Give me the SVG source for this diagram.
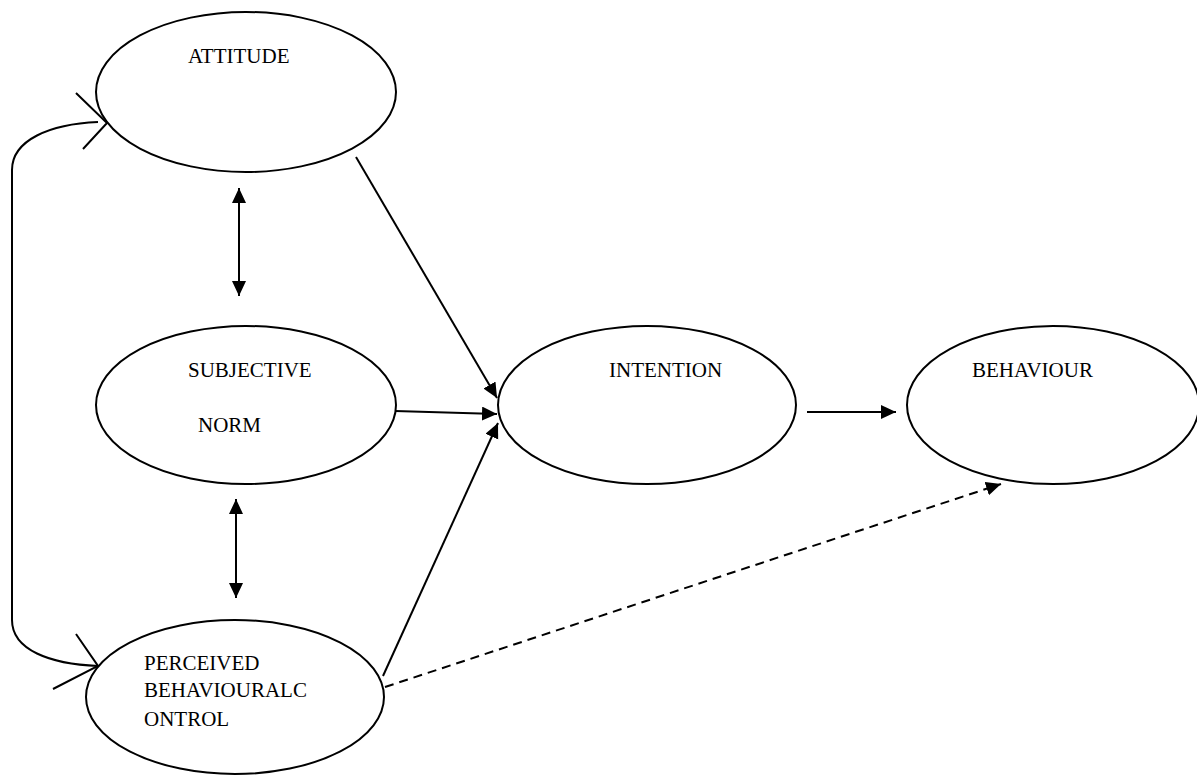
<svg xmlns="http://www.w3.org/2000/svg" width="1197" height="776" viewBox="0 0 1197 776">
<style>
.node ellipse{fill:#fff;stroke:#000;stroke-width:2}
.lbl{font-family:"Liberation Serif","Times New Roman",serif;font-size:21px;fill:#000}
.edge{fill:none;stroke:#000;stroke-width:2}
.dash{stroke-dasharray:9 6}
</style>
<defs>
<marker id="ah" markerUnits="userSpaceOnUse" markerWidth="16" markerHeight="16" refX="15" refY="7" orient="auto-start-reverse">
<path d="M0,0 L15,7 L0,14 z" fill="#000"/>
</marker>
</defs>
<rect width="1197" height="776" fill="#fff"/>
<g id="connectors">
<path class="edge" d="M98 122 C50 124 12 140 12 170 L12 620 C12 650 50 664 98 666"/>
<polyline class="edge" points="76,93 107,123 83,149"/>
<polyline class="edge" points="76,634 98,666 53,689"/>
<line class="edge" x1="239" y1="188" x2="239" y2="296" marker-start="url(#ah)" marker-end="url(#ah)"/>
<line class="edge" x1="236" y1="499" x2="236" y2="598" marker-start="url(#ah)" marker-end="url(#ah)"/>
<line class="edge" x1="356" y1="157" x2="497" y2="398" marker-end="url(#ah)"/>
<line class="edge" x1="395" y1="411" x2="497" y2="414" marker-end="url(#ah)"/>
<line class="edge" x1="383" y1="676" x2="498" y2="423" marker-end="url(#ah)"/>
<line class="edge" x1="807" y1="412" x2="896" y2="412" marker-end="url(#ah)"/>
<line class="edge dash" x1="385" y1="687" x2="1001" y2="484" marker-end="url(#ah)"/>
</g>
<g id="attitude" class="node">
<ellipse cx="246" cy="92" rx="150" ry="80"/>
<text class="lbl" x="188" y="63">ATTITUDE</text>
</g>
<g id="subjective-norm" class="node">
<ellipse cx="246" cy="405" rx="150" ry="79"/>
<text class="lbl" x="188" y="377">SUBJECTIVE</text>
<text class="lbl" x="198" y="432">NORM</text>
</g>
<g id="intention" class="node">
<ellipse cx="647" cy="405" rx="149" ry="79"/>
<text class="lbl" x="609" y="377">INTENTION</text>
</g>
<g id="behaviour" class="node">
<ellipse cx="1053" cy="405" rx="146" ry="79"/>
<text class="lbl" x="972" y="377">BEHAVIOUR</text>
</g>
<g id="pbc" class="node">
<ellipse cx="235" cy="697" rx="149" ry="77"/>
<text class="lbl" x="144" y="670">PERCEIVED</text>
<text class="lbl" x="144" y="697">BEHAVIOURALC</text>
<text class="lbl" x="144" y="726">ONTROL</text>
</g>
</svg>
